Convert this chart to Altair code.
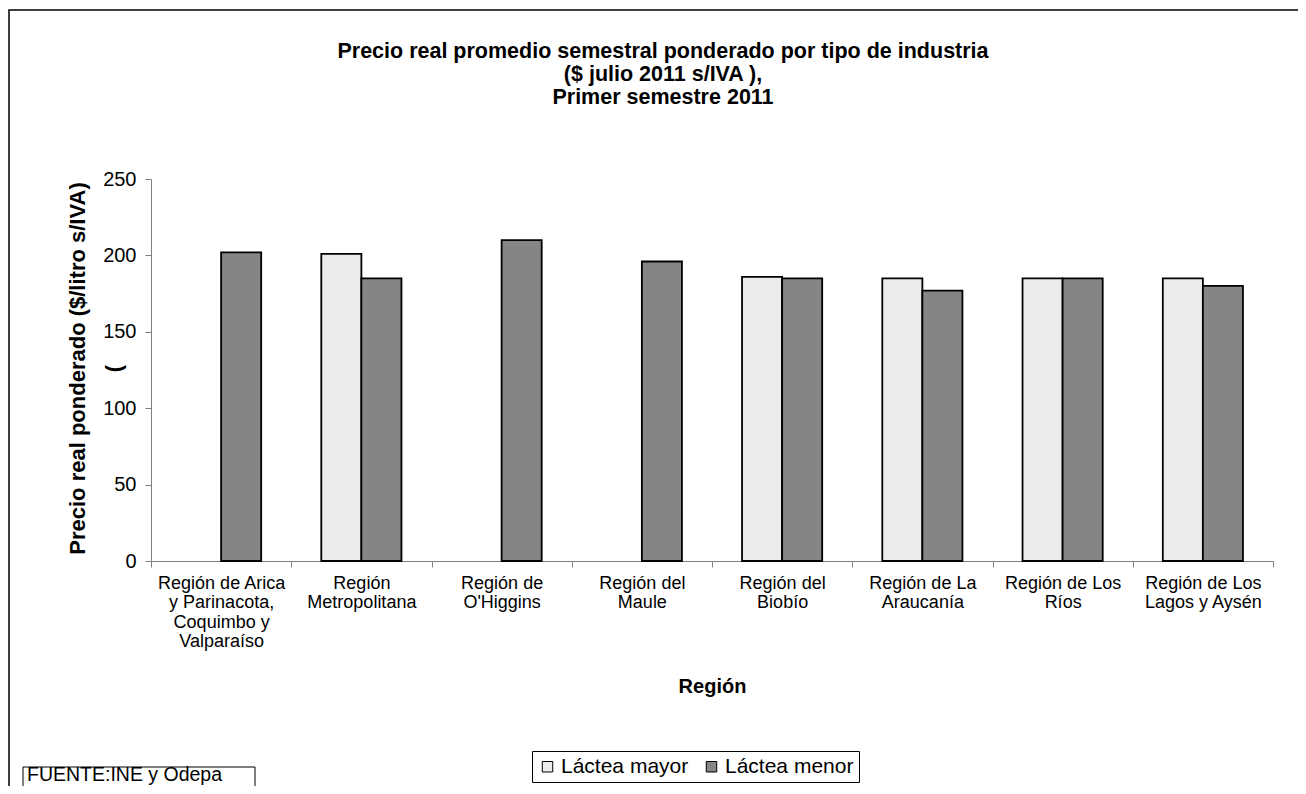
import altair as alt
import pandas as pd

regiones = [
    "Región de Arica\ny Parinacota,\nCoquimbo y\nValparaíso",
    "Región\nMetropolitana",
    "Región de\nO'Higgins",
    "Región del\nMaule",
    "Región del\nBiobío",
    "Región de La\nAraucanía",
    "Región de Los\nRíos",
    "Región de Los\nLagos y Aysén",
]
lactea_mayor = [None, 201, None, None, 186, 185, 185, 185]
lactea_menor = [202, 185, 210, 196, 185, 177, 185, 180]
series = ["Láctea mayor", "Láctea menor"]
y_ticks = [0, 50, 100, 150, 200, 250]
titulo = ["Precio real promedio semestral ponderado por tipo de industria",
          "($ julio 2011 s/IVA ),", "Primer semestre 2011"]
fuente = "FUENTE:INE y Odepa"

rows = []
for i, r in enumerate(regiones):
    rows.append({"Región": r, "Tipo": series[0], "Precio": lactea_mayor[i]})
    rows.append({"Región": r, "Tipo": series[1], "Precio": lactea_menor[i]})
df = pd.DataFrame(rows)

FONT = "Liberation Sans"
W, H = 1122, 382

bars = alt.Chart(df).mark_bar(stroke="black", strokeWidth=1.8).encode(
    x=alt.X("Región:N", sort=regiones,
            scale=alt.Scale(paddingInner=0, paddingOuter=0),
            axis=alt.Axis(title="Región", labelAngle=0, tickBand="extent",
                          labelExpr="datum.value ? split(datum.value, '\\n') : ''",
                          labelFontSize=18, labelLineHeight=19.5, labelPadding=7,
                          labelColor="black", labelFont=FONT, labelBaseline="top",
                          titleFontSize=20, titleFont=FONT, titleColor="black",
                          titleFontWeight="bold", titleY=125, titleBaseline="middle",
                          domainColor="#808080", tickColor="#808080",
                          tickSize=6, grid=False)),
    xOffset=alt.XOffset("Tipo:N", sort=series,
                        scale=alt.Scale(paddingInner=0, paddingOuter=0.75)),
    y=alt.Y("Precio:Q", scale=alt.Scale(domain=[0, 250], nice=False),
            axis=alt.Axis(values=y_ticks, title=["Precio real ponderado ($/litro s/IVA)", "("],
                          labelFontSize=20, labelFont=FONT, labelColor="black",
                          labelPadding=9, tickSize=6,
                          domainColor="#808080", tickColor="#808080", grid=False,
                          titleFontSize=22, titleFont=FONT, titleFontWeight="bold",
                          titleColor="black", titleLineHeight=36,
                          titleX=-74, titleY=189, titleAngle=-90,
                          titleAlign="center", titleBaseline="middle")),
    color=alt.Color("Tipo:N", sort=series,
                    scale=alt.Scale(domain=series, range=["#ececec", "#858585"]),
                    legend=alt.Legend(title=None, orient="none", direction="horizontal",
                                      legendX=381, legendY=572,
                                      strokeColor="black", padding=5,
                                      symbolType="square", symbolSize=110,
                                      symbolStrokeColor="black", symbolStrokeWidth=1,
                                      labelFontSize=21, labelFont=FONT, labelColor="black",
                                      labelOffset=3, columnPadding=12, symbolOpacity=1)),
)

one = pd.DataFrame({"k": [0]})

frame = alt.Chart(one).mark_rect(
    fill=None, stroke="black", strokeWidth=1.5
).encode(x=alt.value(-142), x2=alt.value(1200), y=alt.value(-169), y2=alt.value(800))

title_marks = alt.Chart(pd.DataFrame({"t": ["\n".join(titulo)]})).mark_text(
    align="center", baseline="middle", fontSize=21.5, font=FONT,
    fontWeight="bold", color="black", lineBreak="\n", lineHeight=23
).encode(x=alt.value(512), y=alt.value(-127), text="t:N")

src_box = alt.Chart(one).mark_rect(
    fill="white", stroke="black", strokeWidth=1
).encode(x=alt.value(-128), x2=alt.value(104), y=alt.value(588), y2=alt.value(640))

src_text = alt.Chart(pd.DataFrame({"t": [fuente]})).mark_text(
    align="left", baseline="alphabetic", fontSize=19.5, font=FONT, color="black"
).encode(x=alt.value(-124), y=alt.value(602), text="t:N")

chart = alt.layer(frame, bars, title_marks, src_box, src_text).properties(
    width=W, height=H,
    autosize="none",
    background="white",
    padding={"left": 143, "top": 171, "right": 25, "bottom": 225},
).configure_view(stroke="transparent", strokeWidth=0)

chart.save("out.html", embed_options={"renderer": "svg", "actions": False})
